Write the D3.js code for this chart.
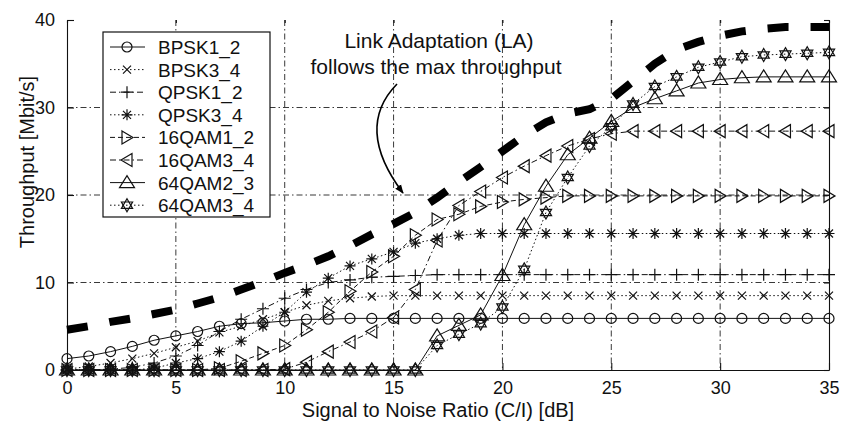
<!DOCTYPE html>
<html lang="en">
<head>
    <meta charset="UTF-8">
    <title>Throughput vs SNR</title>
    <script src="https://cdn.jsdelivr.net/npm/d3@7/dist/d3.min.js"></script>
    <style>
        body { margin: 0; background: #fff; }
        text { font-family: "Liberation Sans", Arial, Helvetica, sans-serif; fill: #111; }
    </style>
</head>
<body>
<svg id="main" width="843" height="421"></svg>

<script>
    // SNR in dB
    const snr = [0,1,2,3,4,5,6,7,8,9,10,11,12,13,14,15,16,17,18,19,20,21,22,23,24,25,26,27,28,29,30,31,32,33,34,35];
    const xTicks = [0, 5, 10, 15, 20, 25, 30, 35];
    const yTicks = [0, 10, 20, 30, 40];

    const names = ["BPSK1_2", "BPSK3_4", "QPSK1_2", "QPSK3_4", "16QAM1_2", "16QAM3_4", "64QAM2_3", "64QAM3_4"];

    const bpsk12 = [1.3,1.6,2.1,2.7,3.4,3.9,4.4,5.0,5.3,5.4,5.6,5.8,5.8,5.9,5.9,5.9,5.9,5.9,5.9,5.9,5.9,5.9,5.9,5.9,5.9,5.9,5.9,5.9,5.9,5.9,5.9,5.9,5.9,5.9,5.9,5.9];
    const bpsk34 = [0.1,0.4,0.8,1.3,1.9,2.6,3.3,4.3,5.0,5.8,6.6,7.4,7.9,8.2,8.4,8.5,8.5,8.5,8.5,8.5,8.5,8.5,8.5,8.5,8.5,8.5,8.5,8.5,8.5,8.5,8.5,8.5,8.5,8.5,8.5,8.5];
    const qpsk12 = [0,0,0.1,0.3,0.8,1.6,2.8,4.4,5.8,7.0,8.2,9.2,10.0,10.3,10.6,10.7,10.8,10.9,10.9,10.9,10.9,10.9,10.9,10.9,10.9,10.9,10.9,10.9,10.9,10.9,10.9,10.9,10.9,10.9,10.9,10.9];
    const qpsk34 = [0,0,0,0,0.2,0.8,1.3,2.1,3.3,5.0,6.6,8.9,10.5,11.9,12.7,13.5,14.5,15.0,15.4,15.6,15.6,15.6,15.6,15.6,15.6,15.6,15.6,15.6,15.6,15.6,15.6,15.6,15.6,15.6,15.6,15.6];
    const qam16_12 = [0,0,0,0,0,0,0,0.2,1.0,1.9,2.8,4.6,6.6,9.0,11.2,13.0,15.4,17.2,17.8,18.7,19.2,19.5,19.7,19.9,19.9,19.9,19.9,19.9,19.9,19.9,19.9,19.9,19.9,19.9,19.9,19.9];
    const qam16_34 = [0,0,0,0,0,0,0,0,0,0,0.1,0.9,2.1,3.2,4.4,6.0,9.2,14.8,18.8,20.4,22.0,23.3,24.5,25.6,26.4,27.0,27.3,27.3,27.3,27.3,27.3,27.3,27.3,27.3,27.3,27.3];
    const qam64_23 = [0,0,0,0,0,0,0,0,0,0,0,0,0,0,0,0,0,3.9,5.1,6.3,10.8,16.6,21.0,24.6,26.5,28.4,30.0,31.0,31.9,32.8,33.2,33.4,33.5,33.5,33.5,33.5];
    const qam64_34 = [0,0,0,0,0,0,0,0,0,0,0,0,0,0,0,0,0,2.8,4.1,5.3,7.2,11.5,18.0,22.0,25.6,27.8,30.4,32.4,33.5,34.6,35.2,35.8,36.0,36.1,36.2,36.3];
    // link adaptation envelope (thick dashed)
    const linkAdapt = [4.6,5.0,5.5,5.9,6.4,6.9,7.6,8.3,9.2,10.1,11.1,12.0,13.0,14.2,15.5,16.7,18.0,19.7,21.5,23.2,25.0,26.8,28.3,29.3,29.8,31.0,33.0,35.0,36.6,37.5,38.2,38.7,39.0,39.2,39.2,39.2];

    const seriesValues = [bpsk12, bpsk34, qpsk12, qpsk34, qam16_12, qam16_34, qam64_23, qam64_34];
    const markers = ["o", "x", "+", "*", ">", "<", "^", "h"];
    const dashes = [null, "1.5,2.5", "6,3,1.5,3", "1.5,2.5", "5,3", "6,3,1.5,3", null, "1.5,2.5"];

    const svg = d3.select("#main");
    const pLeft = 67, pRight = 829, pTop = 20, pBottom = 370;

    const x = d3.scaleLinear().domain([0, 35]).range([pLeft, pRight]);
    const y = d3.scaleLinear().domain([0, 40]).range([pBottom, pTop]);

    // grid
    svg.append("g").selectAll("line")
        .data(xTicks.filter(d => d > 0 && d < 35))
        .join("line")
        .attr("x1", d => x(d)).attr("x2", d => x(d))
        .attr("y1", pTop).attr("y2", pBottom)
        .attr("stroke", "#222").attr("stroke-width", 0.9)
        .attr("stroke-dasharray", "6,3,1.5,3");
    svg.append("g").selectAll("line")
        .data(yTicks.filter(d => d > 0 && d < 40))
        .join("line")
        .attr("x1", pLeft).attr("x2", pRight)
        .attr("y1", d => y(d)).attr("y2", d => y(d))
        .attr("stroke", "#222").attr("stroke-width", 0.9)
        .attr("stroke-dasharray", "6,3,1.5,3");

    // axes (ticks inside, like matlab)
    const xAxis = svg.append("g").attr("transform", `translate(0,${pBottom})`)
        .call(d3.axisBottom(x).tickValues(xTicks).tickSizeInner(-7).tickSizeOuter(0).tickPadding(11));
    const yAxis = svg.append("g").attr("transform", `translate(${pLeft},0)`)
        .call(d3.axisLeft(y).tickValues(yTicks).tickSizeInner(-7).tickSizeOuter(0).tickPadding(12));
    svg.append("g").attr("transform", `translate(${pRight},0)`)
        .call(d3.axisRight(y).tickValues(yTicks).tickSizeInner(-5).tickSizeOuter(0).tickFormat(""));
    svg.append("g").attr("transform", `translate(0,${pTop})`)
        .call(d3.axisTop(x).tickValues(xTicks).tickSizeInner(-3).tickSizeOuter(0).tickFormat(""))
        .select(".domain").remove();
    svg.selectAll(".domain, .tick line").attr("stroke", "#111").attr("stroke-width", 1.1);
    xAxis.selectAll("text").attr("font-size", "18px").style("font-family", "Liberation Sans, Arial, sans-serif");
    yAxis.selectAll("text").attr("font-size", "18px").style("font-family", "Liberation Sans, Arial, sans-serif");

    svg.append("text")
        .attr("x", 438).attr("y", 417)
        .attr("text-anchor", "middle")
        .attr("font-size", "20px")
        .text("Signal to Noise Ratio (C/I) [dB]");
    svg.append("text")
        .attr("transform", "translate(34,162) rotate(-90)")
        .attr("text-anchor", "middle")
        .attr("font-size", "20px")
        .text("Throughput [Mbit/s]");

    function markerPath(m) {
        if (m === "o") return "M-5,0a5,5 0 1,0 10,0a5,5 0 1,0 -10,0";
        if (m === "x") return "M-4,-4L4,4M-4,4L4,-4";
        if (m === "+") return "M-6,0H6M0,-6V6";
        if (m === "*") return "M-5.5,0H5.5M0,-5.5V5.5M-4,-4L4,4M-4,4L4,-4";
        if (m === ">") return "M-5,-6.5L6,0L-5,6.5Z";
        if (m === "<") return "M5,-6.5L-6,0L5,6.5Z";
        if (m === "^") return "M-7.5,5L7.5,5L0,-7Z";
        return "M0,-6.5L5.6,3.2L-5.6,3.2ZM0,6.5L5.6,-3.2L-5.6,-3.2Z";
    }

    const line = d3.line().x((d, i) => x(snr[i])).y(d => y(d));

    // LA thick dashed line
    svg.append("path")
        .attr("d", line(linkAdapt))
        .attr("fill", "none").attr("stroke", "#000")
        .attr("stroke-width", 8)
        .attr("stroke-dasharray", "21,22");

    seriesValues.forEach((vals, k) => {
        svg.append("path")
            .attr("d", line(vals))
            .attr("fill", "none").attr("stroke", "#111")
            .attr("stroke-width", 1)
            .attr("stroke-dasharray", dashes[k]);
        svg.append("g").selectAll("path")
            .data(vals)
            .join("path")
            .attr("transform", (d, i) => `translate(${x(snr[i])},${y(d)})`)
            .attr("d", markerPath(markers[k]))
            .attr("fill", "none").attr("stroke", "#111")
            .attr("stroke-width", 1.2);
    });

    // legend
    const lg = svg.append("g");
    lg.append("rect")
        .attr("x", 103).attr("y", 32).attr("width", 167).attr("height", 185)
        .attr("fill", "#fff").attr("stroke", "#111").attr("stroke-width", 1.2);
    names.forEach((n, i) => {
        const ly = 47 + i * 22.6;
        lg.append("line")
            .attr("x1", 110).attr("x2", 145).attr("y1", ly).attr("y2", ly)
            .attr("stroke", "#111").attr("stroke-width", 1)
            .attr("stroke-dasharray", dashes[i]);
        lg.append("path")
            .attr("transform", `translate(127,${ly})`)
            .attr("d", markerPath(markers[i]))
            .attr("fill", "none").attr("stroke", "#111").attr("stroke-width", 1.2);
        lg.append("text")
            .attr("x", 158).attr("y", ly + 7)
            .attr("font-size", "19px")
            .text(n);
    });

    // annotation
    svg.append("text").attr("x", 439).attr("y", 48)
        .attr("text-anchor", "middle").attr("font-size", "21px")
        .text("Link Adaptation (LA)");
    svg.append("text").attr("x", 436).attr("y", 74)
        .attr("text-anchor", "middle").attr("font-size", "21px")
        .text("follows the max throughput");

    svg.append("defs").append("marker")
        .attr("id", "head")
        .attr("viewBox", "0 0 10 10")
        .attr("refX", 9).attr("refY", 5)
        .attr("markerWidth", 9).attr("markerHeight", 9)
        .attr("markerUnits", "userSpaceOnUse")
        .attr("orient", "auto")
        .append("path").attr("d", "M0,1L10,5L0,9Z").attr("fill", "#000");
    svg.append("path")
        .attr("d", "M397,84Q354,128 403,193")
        .attr("fill", "none").attr("stroke", "#000").attr("stroke-width", 1.6)
        .attr("marker-end", "url(#head)");
</script>
</body>
</html>
